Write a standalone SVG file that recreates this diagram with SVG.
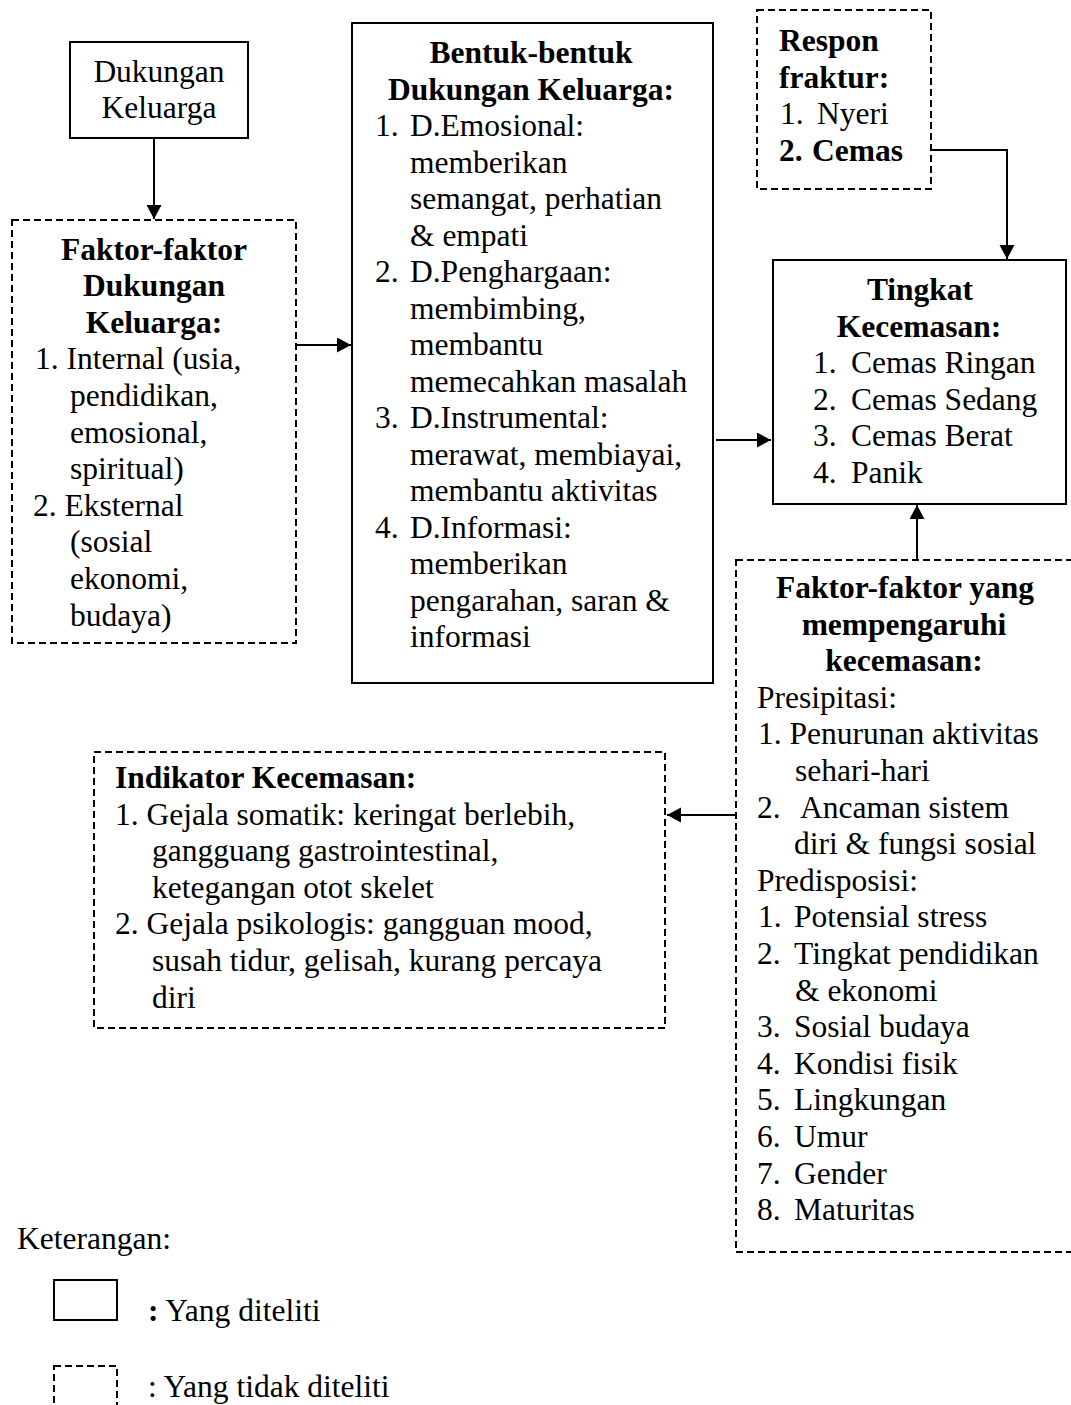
<svg xmlns="http://www.w3.org/2000/svg" width="1071" height="1405" viewBox="0 0 1071 1405">
<style>
  text { font-family: "Liberation Serif", "Times New Roman", serif; font-size: 31.5px; fill: #000; }
  .b { font-weight: bold; }
  .c { text-anchor: middle; }
  .solid { fill: #fff; stroke: #000; stroke-width: 2; }
  .dash { fill: #fff; stroke: #000; stroke-width: 2; stroke-dasharray: 7 4; }
  .conn { fill: none; stroke: #000; stroke-width: 2; }
</style>
<defs>
  <marker id="arr" markerUnits="userSpaceOnUse" markerWidth="16" markerHeight="16" refX="14" refY="7.5" orient="auto">
    <path d="M0,0 L14,7.5 L0,15 z" fill="#000"/>
  </marker>
</defs>
<rect width="1071" height="1405" fill="#fff"/>

<g id="connectors">
  <line class="conn" x1="154" y1="138" x2="154" y2="219" marker-end="url(#arr)"/>
  <line class="conn" x1="296" y1="345" x2="351" y2="345" marker-end="url(#arr)"/>
  <line class="conn" x1="716" y1="440" x2="771" y2="440" marker-end="url(#arr)"/>
  <path class="conn" d="M931,150 H1007 V259" marker-end="url(#arr)"/>
  <line class="conn" x1="917" y1="560" x2="917" y2="505" marker-end="url(#arr)"/>
  <line class="conn" x1="736" y1="815" x2="667" y2="815" marker-end="url(#arr)"/>
</g>

<g id="dukungan-keluarga">
  <rect class="solid" x="70" y="42" width="178" height="96"/>
  <text class="c" x="159" y="82">Dukungan</text>
  <text class="c" x="159" y="118">Keluarga</text>
</g>

<g id="faktor-dukungan">
  <rect class="dash" x="12" y="220" width="284" height="423"/>
  <text class="b c" x="154" y="259.5">Faktor-faktor</text>
  <text class="b c" x="154" y="296.1">Dukungan</text>
  <text class="b c" x="154" y="332.7">Keluarga:</text>
  <text x="35" y="369.3">1. Internal (usia,</text>
  <text x="70" y="405.9">pendidikan,</text>
  <text x="70" y="442.5">emosional,</text>
  <text x="70" y="479.1">spiritual)</text>
  <text x="33" y="515.7">2. Eksternal</text>
  <text x="70" y="552.3">(sosial</text>
  <text x="70" y="588.9">ekonomi,</text>
  <text x="70" y="625.5">budaya)</text>
</g>

<g id="bentuk-dukungan">
  <rect class="solid" x="352" y="23" width="361" height="660"/>
  <text class="b c" x="531" y="63">Bentuk-bentuk</text>
  <text class="b c" x="531" y="99.5">Dukungan Keluarga:</text>
  <text x="375" y="136">1.</text><text x="410" y="136">D.Emosional:</text>
  <text x="410" y="172.5">memberikan</text>
  <text x="410" y="209">semangat, perhatian</text>
  <text x="410" y="245.5">&amp; empati</text>
  <text x="375" y="282">2.</text><text x="410" y="282">D.Penghargaan:</text>
  <text x="410" y="318.5">membimbing,</text>
  <text x="410" y="355">membantu</text>
  <text x="410" y="391.5">memecahkan masalah</text>
  <text x="375" y="428">3.</text><text x="410" y="428">D.Instrumental:</text>
  <text x="410" y="464.5">merawat, membiayai,</text>
  <text x="410" y="501">membantu aktivitas</text>
  <text x="375" y="537.5">4.</text><text x="410" y="537.5">D.Informasi:</text>
  <text x="410" y="574">memberikan</text>
  <text x="410" y="610.5">pengarahan, saran &amp;</text>
  <text x="410" y="647">informasi</text>
</g>

<g id="respon-fraktur">
  <rect class="dash" x="757" y="10" width="174" height="179"/>
  <text class="b" x="779" y="51">Respon</text>
  <text class="b" x="779" y="88">fraktur:</text>
  <text x="780" y="124">1.</text><text x="817" y="124">Nyeri</text>
  <text class="b" x="779" y="161">2.</text><text class="b" x="812" y="161">Cemas</text>
</g>

<g id="tingkat-kecemasan">
  <rect class="solid" x="773" y="260" width="293" height="244"/>
  <text class="b c" x="920" y="300">Tingkat</text>
  <text class="b c" x="919" y="336.5">Kecemasan:</text>
  <text x="813" y="373">1.</text><text x="851" y="373">Cemas Ringan</text>
  <text x="813" y="409.5">2.</text><text x="851" y="409.5">Cemas Sedang</text>
  <text x="813" y="446">3.</text><text x="851" y="446">Cemas Berat</text>
  <text x="813" y="482.5">4.</text><text x="851" y="482.5">Panik</text>
</g>

<g id="faktor-kecemasan">
  <rect class="dash" x="736" y="560" width="345" height="692"/>
  <text class="b c" x="905" y="598">Faktor-faktor yang</text>
  <text class="b c" x="904" y="634.6">mempengaruhi</text>
  <text class="b c" x="904" y="671.2">kecemasan:</text>
  <text x="757" y="707.8">Presipitasi:</text>
  <text x="758" y="744.4">1. Penurunan aktivitas</text>
  <text x="795" y="781">sehari-hari</text>
  <text x="757" y="817.6">2.</text><text x="800" y="817.6">Ancaman sistem</text>
  <text x="794" y="854.2">diri &amp; fungsi sosial</text>
  <text x="757" y="890.8">Predisposisi:</text>
  <text x="758" y="927.4">1.</text><text x="794" y="927.4">Potensial stress</text>
  <text x="757" y="964">2.</text><text x="794" y="964">Tingkat pendidikan</text>
  <text x="795" y="1000.6">&amp; ekonomi</text>
  <text x="757" y="1037.2">3.</text><text x="794" y="1037.2">Sosial budaya</text>
  <text x="757" y="1073.8">4.</text><text x="794" y="1073.8">Kondisi fisik</text>
  <text x="757" y="1110.4">5.</text><text x="794" y="1110.4">Lingkungan</text>
  <text x="757" y="1147">6.</text><text x="794" y="1147">Umur</text>
  <text x="757" y="1183.6">7.</text><text x="794" y="1183.6">Gender</text>
  <text x="757" y="1220.2">8.</text><text x="794" y="1220.2">Maturitas</text>
</g>

<g id="indikator-kecemasan">
  <rect class="dash" x="94" y="752" width="571" height="276"/>
  <text class="b" x="115" y="788">Indikator Kecemasan:</text>
  <text x="115" y="824.6">1. Gejala somatik: keringat berlebih,</text>
  <text x="152" y="861.2">gangguang gastrointestinal,</text>
  <text x="152" y="897.8">ketegangan otot skelet</text>
  <text x="115" y="934.4">2. Gejala psikologis: gangguan mood,</text>
  <text x="152" y="971">susah tidur, gelisah, kurang percaya</text>
  <text x="152" y="1007.6">diri</text>
</g>

<g id="legend">
  <text x="17" y="1249">Keterangan:</text>
  <rect class="solid" x="54" y="1280" width="63" height="40"/>
  <text x="148" y="1321"><tspan class="b">:</tspan> Yang diteliti</text>
  <rect class="dash" x="54" y="1366" width="63" height="60"/>
  <text x="148" y="1397">: Yang tidak diteliti</text>
</g>
</svg>
